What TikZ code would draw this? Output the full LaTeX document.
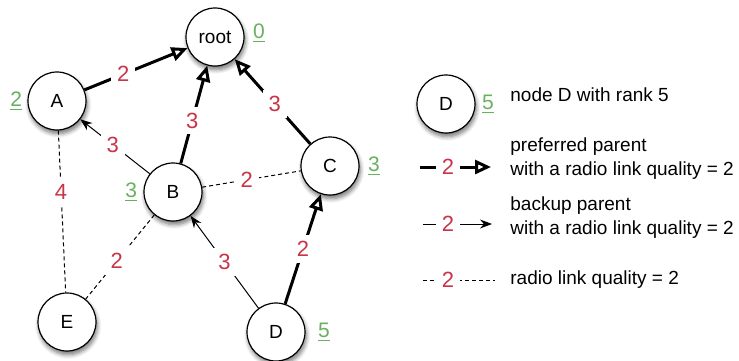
\documentclass[tikz,border=0pt]{standalone}
\usepackage{fontspec}
\setmainfont{Liberation Sans}
\usetikzlibrary{arrows.meta,positioning,calc,shadows.blur}
\definecolor{LinkRed}{RGB}{200,52,72}
\definecolor{RankGreen}{RGB}{104,176,96}

\tikzset{
  mote/.style={circle, draw=black, line width=0.6pt, fill=white,
    minimum size=29pt, inner sep=0pt, font=\fontsize{9.5}{11}\selectfont,
    blur shadow={shadow blur steps=6, shadow xshift=0.6pt,
      shadow yshift=-1.8pt, shadow opacity=55}},
  rank/.style={text=RankGreen, inner sep=1pt, font=\fontsize{10.5}{12}\selectfont},
  quality/.style={text=LinkRed, fill=white, inner sep=3pt,
    font=\fontsize{11}{13}\selectfont},
  preferred/.style={line width=1.5pt, -{Triangle[open, length=8pt, width=7pt]}},
  backup/.style={line width=0.5pt, -{Stealth[length=6pt, width=4.5pt]}},
  radio/.style={line width=0.5pt, dash pattern=on 2pt off 1.5pt},
  legendtext/.style={anchor=west, align=left, inner sep=0pt,
    font=\fontsize{9.5}{12}\selectfont},
}

\begin{document}
\begin{tikzpicture}[x=0.5pt, y=-0.5pt]
  \useasboundingbox (0,0) rectangle (739,360);

  % motes
  \node[mote] (root) at (215,37) {root};
  \node[mote] (A) at (57,101) {A};
  \node[mote] (B) at (173,192) {B};
  \node[mote] (C) at (330,166) {C};
  \node[mote] (E) at (67,322) {E};
  \node[mote] (D) at (276,332) {D};

  % ranks
  \node[rank, above right=-4pt and 3pt of root.east] (rankroot) {\underline{0}};
  \node[rank, left=1.5pt of A] (rankA) {\underline{2}};
  \node[rank, left=2pt of B] (rankB) {\underline{3}};
  \node[rank, right=3pt of C] (rankC) {\underline{3}};
  \node[rank, right=5pt of D] (rankD) {\underline{5}};

  % links
  \draw[preferred] (A) -- (root);
  \draw[preferred] (B) -- (root);
  \draw[preferred] (C) -- (root);
  \draw[preferred] (D) -- (C);
  \draw[backup] (B) -- (A);
  \draw[backup] (D) -- (B);
  \draw[radio] (A) -- (E);
  \draw[radio] (B) -- (E);
  \draw[radio] (B) -- (C);

  % link qualities
  \node[quality] (qAroot) at ($(A)!0.42!(root)$) {2};
  \node[quality] (qBroot) at ($(B)!0.46!(root)$) {3};
  \node[quality] (qCroot) at ($(C)!0.48!(root)$) {3};
  \node[quality] (qDC) at ($(D)!0.5!(C)$) {2};
  \node[quality] (qBA) at ($(B)!0.52!(A)$) {3};
  \node[quality] (qDB) at ($(D)!0.5!(B)$) {3};
  \node[quality] (qAE) at ($(A)!0.41!(E)$) {4};
  \node[quality] (qBE) at ($(B)!0.53!(E)$) {2};
  \node[quality] (qBC) at ($(B)!0.47!(C)$) {2};

  % legend
  \node[mote] (legD) at (446,104) {D};
  \node[rank, right=2pt of legD] (legrank) {\underline{5}};
  \node[legendtext] (txtnode) at (510,95) {node D with rank 5};

  \coordinate (prefstart) at (420,167);
  \coordinate (prefend) at (491,167);
  \draw[preferred] (prefstart) -- (prefend);
  \node[quality] (qpref) at (448,167) {2};
  \node[legendtext] (txtpref) at (510,159) {preferred parent\\with a radio link quality = 2};

  \coordinate (backstart) at (423,224);
  \coordinate (backend) at (492,224);
  \draw[backup] (backstart) -- (backend);
  \node[quality] (qback) at (448,224) {2};
  \node[legendtext] (txtback) at (510,218) {backup parent\\with a radio link quality = 2};

  \coordinate (radiostart) at (423,280);
  \coordinate (radioend) at (495,280);
  \draw[radio] (radiostart) -- (radioend);
  \node[quality] (qradio) at (448,280) {2};
  \node[legendtext] (txtradio) at (510,280) {radio link quality = 2};
\end{tikzpicture}
\end{document}
